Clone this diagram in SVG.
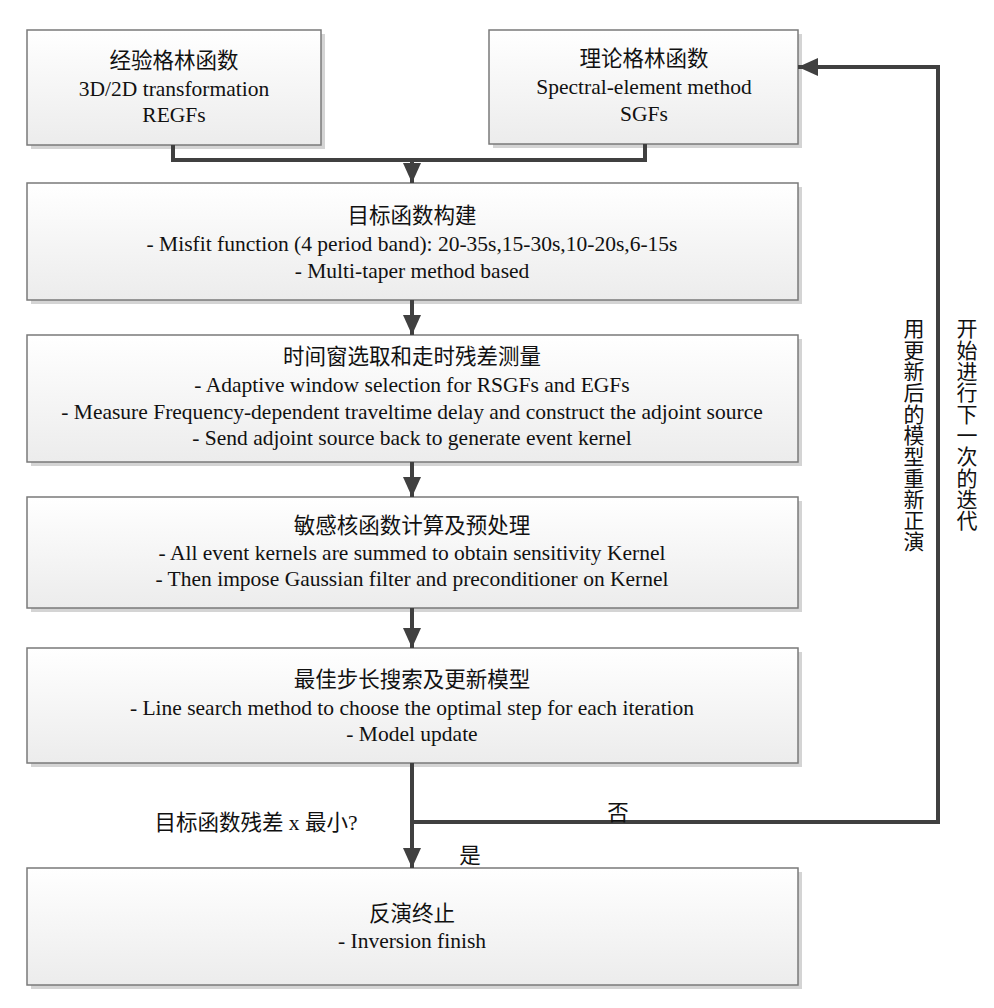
<svg xmlns="http://www.w3.org/2000/svg" width="994" height="1008" viewBox="0 0 994 1008">
<defs>
<linearGradient id="g" x1="0" y1="0" x2="0" y2="1">
<stop offset="0" stop-color="#ffffff"/>
<stop offset="1" stop-color="#ececec"/>
</linearGradient>
<marker id="ah" viewBox="0 0 10 10" refX="10" refY="5" markerWidth="5" markerHeight="4.5" markerUnits="strokeWidth" orient="auto" preserveAspectRatio="none">
<path d="M0,0 L10,5 L0,10 z" fill="#404040"/>
</marker>
<style>
.box{fill:url(#g);stroke:#7a7a7a;stroke-width:1.5}
.sh{fill:#d4d4d4}
.t{font-family:"Liberation Serif","Noto Sans CJK SC",serif;font-size:21.5px;fill:#111;text-anchor:middle}
.c{stroke:#404040;stroke-width:4;fill:none}
.v{font-family:"Liberation Serif","Noto Sans CJK SC",serif;font-size:21px;fill:#111;writing-mode:vertical-rl;letter-spacing:0.3px}
</style>
</defs>
<rect width="994" height="1008" fill="#fff"/>
<g id="n1">
<rect class="sh" x="31" y="34" width="294" height="115"/>
<rect class="box" x="27" y="30" width="294" height="115"/>
<text class="t" x="174" y="68">经验格林函数</text>
<text class="t" x="174" y="96">3D/2D transformation</text>
<text class="t" x="174" y="122">REGFs</text>
</g>
<g id="n2">
<rect class="sh" x="493" y="34" width="309" height="114"/>
<rect class="box" x="489" y="30" width="309" height="114"/>
<text class="t" x="644" y="66">理论格林函数</text>
<text class="t" x="644" y="94">Spectral-element method</text>
<text class="t" x="644" y="121">SGFs</text>
</g>
<g id="n3">
<rect class="sh" x="31" y="187" width="771" height="117"/>
<rect class="box" x="27" y="183" width="771" height="117"/>
<text class="t" x="412" y="223">目标函数构建</text>
<text class="t" x="412" y="251">- Misfit function (4 period band): 20-35s,15-30s,10-20s,6-15s</text>
<text class="t" x="412" y="278">- Multi-taper method based</text>
</g>
<g id="n4">
<rect class="sh" x="31" y="339" width="771" height="127"/>
<rect class="box" x="27" y="335" width="771" height="127"/>
<text class="t" x="412" y="364">时间窗选取和走时残差测量</text>
<text class="t" x="412" y="392">- Adaptive window selection for RSGFs and EGFs</text>
<text class="t" x="412" y="419">- Measure Frequency-dependent traveltime delay and construct the adjoint source</text>
<text class="t" x="412" y="445">- Send adjoint source back to generate event kernel</text>
</g>
<g id="n5">
<rect class="sh" x="31" y="501" width="771" height="111"/>
<rect class="box" x="27" y="497" width="771" height="111"/>
<text class="t" x="412" y="533">敏感核函数计算及预处理</text>
<text class="t" x="412" y="560">- All event kernels are summed to obtain sensitivity Kernel</text>
<text class="t" x="412" y="586">- Then impose Gaussian filter and preconditioner on Kernel</text>
</g>
<g id="n6">
<rect class="sh" x="31" y="652" width="771" height="115"/>
<rect class="box" x="27" y="648" width="771" height="115"/>
<text class="t" x="412" y="687">最佳步长搜索及更新模型</text>
<text class="t" x="412" y="715">- Line search method to choose the optimal step for each iteration</text>
<text class="t" x="412" y="741">- Model update</text>
</g>
<g id="n7">
<rect class="sh" x="31" y="872" width="771" height="117"/>
<rect class="box" x="27" y="868" width="771" height="117"/>
<text class="t" x="412" y="921">反演终止</text>
<text class="t" x="412" y="948">- Inversion finish</text>
</g>
<g id="connectors">
<path class="c" d="M173,145 V160 H645 V144"/>
<path class="c" d="M412,160 V183" marker-end="url(#ah)"/>
<path class="c" d="M412,300 V335" marker-end="url(#ah)"/>
<path class="c" d="M412,462 V497" marker-end="url(#ah)"/>
<path class="c" d="M412,608 V648" marker-end="url(#ah)"/>
<path class="c" d="M412,763 V868" marker-end="url(#ah)"/>
<path class="c" d="M412,822 H938 V67 H798" marker-end="url(#ah)"/>
</g>
<g id="labels">
<text class="t" x="256" y="830">目标函数残差 x 最小?</text>
<text class="t" x="618" y="820">否</text>
<text class="t" x="470" y="863">是</text>
<text class="v" x="912" y="318">用更新后的模型重新正演</text>
<text class="v" x="965" y="318">开始进行下一次的迭代</text>
</g>
</svg>
